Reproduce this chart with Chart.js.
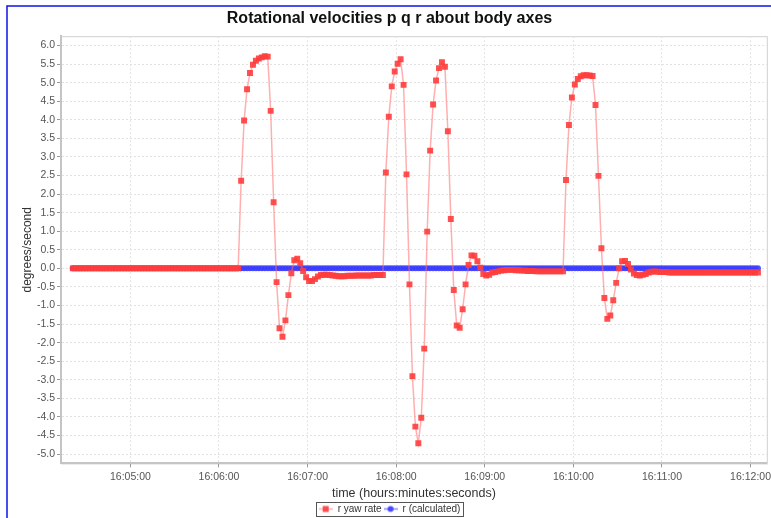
<!DOCTYPE html>
<html>
<head>
<meta charset="utf-8">
<script src="https://cdn.jsdelivr.net/npm/chart.js@4.4.1/dist/chart.umd.min.js"></script>
<style>
  html, body { margin: 0; padding: 0; background: #fff; }
  canvas { display: block; }
</style>
</head>
<body>
<canvas id="chart" width="771" height="518"></canvas>
<script>
// samples every 2 s, first one at 16:04:21 (seconds since midnight)
const sampleStart = 57861;
const sampleStep = 2;

const rYawRate = [
    0, 0, 0, 0, 0, 0, 0, 0, 0, 0, 0, 0, 0, 0, 0, 0, 0, 0, 0, 0,
    0, 0, 0, 0, 0, 0, 0, 0, 0, 0, 0, 0, 0, 0, 0, 0, 0, 0, 0, 0,
    0, 0, 0, 0, 0, 0, 0, 0, 0, 0, 0, 0, 0, 0, 0, 0, 0,
    2.36, 3.98, 4.82, 5.26, 5.48, 5.59, 5.65, 5.68, 5.71, 5.70, 4.24, 1.78, -0.37, -1.61,
    -1.84, -1.40, -0.72, -0.13, 0.22, 0.26, 0.14, -0.07, -0.24, -0.34, -0.34, -0.29, -0.22, -0.18,
    -0.17, -0.17, -0.18, -0.19, -0.20, -0.21, -0.21, -0.21, -0.20, -0.20, -0.20,
    -0.19, -0.19, -0.19, -0.19, -0.19, -0.19, -0.18, -0.18, -0.18, -0.18,
    2.58, 4.08, 4.90, 5.30, 5.51, 5.63, 4.94, 2.53, -0.43, -2.90, -4.26, -4.71, -4.02,
    -2.16, 0.99, 3.17, 4.41, 5.06, 5.39, 5.55, 5.43, 3.69, 1.33, -0.58, -1.54, -1.60,
    -1.10, -0.43, 0.09, 0.35, 0.34, 0.19, 0.02, -0.15, -0.19, -0.17, -0.11,
    -0.10, -0.08, -0.06, -0.05, -0.04, -0.04, -0.04, -0.05, -0.05, -0.06, -0.06, -0.07,
    -0.07, -0.07, -0.08, -0.08, -0.08, -0.08, -0.08, -0.08, -0.08, -0.08, -0.08, -0.08,
    2.38, 3.86, 4.60, 4.95, 5.10, 5.17, 5.20, 5.20, 5.19, 5.18, 4.40, 2.49, 0.54, -0.80, -1.36, -1.27,
    -0.86, -0.39, 0.00, 0.19, 0.20, 0.12, -0.03, -0.14, -0.18, -0.19, -0.17, -0.15, -0.11, -0.09, -0.08,
    -0.09, -0.10, -0.10, -0.10, -0.11, -0.11, -0.11, -0.11, -0.11, -0.11, -0.11, -0.11,
    -0.11, -0.11, -0.11, -0.11, -0.11, -0.11, -0.11, -0.11, -0.11, -0.11, -0.11, -0.11,
    -0.11, -0.11, -0.11, -0.11, -0.11, -0.11, -0.11, -0.11, -0.11, -0.11, -0.11
];

const rCalculated = [
    0, 0, 0, 0, 0, 0, 0, 0, 0, 0, 0, 0, 0, 0, 0, 0, 0, 0, 0, 0,
    0, 0, 0, 0, 0, 0, 0, 0, 0, 0, 0, 0, 0, 0, 0, 0, 0, 0, 0, 0,
    0, 0, 0, 0, 0, 0, 0, 0, 0, 0, 0, 0, 0, 0, 0, 0, 0, 0, 0, 0,
    0, 0, 0, 0, 0, 0, 0, 0, 0, 0, 0, 0, 0, 0, 0, 0, 0, 0, 0, 0,
    0, 0, 0, 0, 0, 0, 0, 0, 0, 0, 0, 0, 0, 0, 0, 0, 0, 0, 0, 0,
    0, 0, 0, 0, 0, 0, 0, 0, 0, 0, 0, 0, 0, 0, 0, 0, 0, 0, 0, 0,
    0, 0, 0, 0, 0, 0, 0, 0, 0, 0, 0, 0, 0, 0, 0, 0, 0, 0, 0, 0,
    0, 0, 0, 0, 0, 0, 0, 0, 0, 0, 0, 0, 0, 0, 0, 0, 0, 0, 0, 0,
    0, 0, 0, 0, 0, 0, 0, 0, 0, 0, 0, 0, 0, 0, 0, 0, 0, 0, 0, 0,
    0, 0, 0, 0, 0, 0, 0, 0, 0, 0, 0, 0, 0, 0, 0, 0, 0, 0, 0, 0,
    0, 0, 0, 0, 0, 0, 0, 0, 0, 0, 0, 0, 0, 0, 0, 0, 0, 0, 0, 0,
    0, 0, 0, 0, 0, 0, 0, 0, 0, 0, 0, 0, 0
];

const seriesNames = ['r yaw rate', 'r (calculated)'];
// x tick marks: 16:05:00 ... 16:12:00 in seconds since midnight
const xTicks = [57900, 57960, 58020, 58080, 58140, 58200, 58260, 58320];
const yTicks = [-5.0, -4.5, -4.0, -3.5, -3.0, -2.5, -2.0, -1.5, -1.0, -0.5, 0.0,
    0.5, 1.0, 1.5, 2.0, 2.5, 3.0, 3.5, 4.0, 4.5, 5.0, 5.5, 6.0];
const timeMin = 57853;
const timeMax = 58331;
const yMin = -5.25;
const yMax = 6.25;

const RED = 'rgba(255, 60, 60, 0.9)';
const RED_LINE = 'rgba(255, 110, 110, 0.55)';
const BLUE = 'rgba(60, 60, 255, 0.9)';
const BLUE_LINE = 'rgba(60, 60, 255, 0.6)';

function toPoints(values) {
    return values.map((v, i) => ({x: sampleStart + i * sampleStep, y: v}));
}

function hms(sec) {
    const h = Math.floor(sec / 3600);
    const m = Math.floor((sec % 3600) / 60);
    const s = Math.round(sec % 60);
    return [h, m, s].map(n => String(n).padStart(2, '0')).join(':');
}

function legendIcon(lineColor, markColor, shape) {
    const c = document.createElement('canvas');
    c.width = 14;
    c.height = 9;
    const g = c.getContext('2d');
    g.strokeStyle = lineColor;
    g.lineWidth = 1.5;
    g.beginPath();
    g.moveTo(0, 4.5);
    g.lineTo(14, 4.5);
    g.stroke();
    g.fillStyle = markColor;
    if (shape === 'rect') {
        g.fillRect(4, 1.5, 6, 6);
    } else {
        g.beginPath();
        g.arc(7, 4.5, 3, 0, Math.PI * 2);
        g.fill();
    }
    return c;
}

const icons = [legendIcon(RED_LINE, RED, 'rect'), legendIcon(BLUE_LINE, BLUE, 'circle')];

const framePlugin = {
    id: 'frame',
    beforeDraw(chart) {
        const ctx = chart.ctx;
        ctx.save();
        ctx.fillStyle = '#fff';
        ctx.fillRect(0, 0, chart.width, chart.height);
        ctx.strokeStyle = '#1010ee';
        ctx.lineWidth = 1.5;
        ctx.beginPath();
        ctx.moveTo(7, chart.height);
        ctx.lineTo(7, 6);
        ctx.lineTo(chart.width, 6);
        ctx.stroke();
        const a = chart.chartArea;
        ctx.strokeStyle = '#d0d0d0';
        ctx.lineWidth = 1;
        ctx.strokeRect(a.left + 0.5, a.top + 0.5, a.right - a.left, a.bottom - a.top);
        ctx.restore();
    },
    afterDraw(chart) {
        const boxes = chart.legend.legendHitBoxes;
        if (!boxes || !boxes.length) return;
        let l = Infinity, t = Infinity, r = -Infinity, b = -Infinity;
        boxes.forEach(h => {
            l = Math.min(l, h.left);
            t = Math.min(t, h.top);
            r = Math.max(r, h.left + h.width);
            b = Math.max(b, h.top + h.height);
        });
        const ctx = chart.ctx;
        ctx.save();
        ctx.strokeStyle = '#555';
        ctx.lineWidth = 1;
        ctx.strokeRect(Math.round(l - 3) + 0.5, Math.round(t - 2) + 0.5, Math.round(r - l + 5), Math.round(b - t + 4));
        ctx.restore();
    }
};

new Chart(document.getElementById('chart'), {
    type: 'line',
    data: {
        datasets: [
            {
                label: seriesNames[0],
                data: toPoints(rYawRate),
                borderColor: RED_LINE,
                borderWidth: 1.5,
                pointStyle: 'rect',
                pointRadius: 4.2,
                pointBackgroundColor: RED,
                pointBorderWidth: 0,
                tension: 0
            },
            {
                label: seriesNames[1],
                data: toPoints(rCalculated),
                borderColor: BLUE_LINE,
                borderWidth: 1.5,
                pointStyle: 'circle',
                pointRadius: 3,
                pointBackgroundColor: BLUE,
                pointBorderWidth: 0,
                tension: 0
            }
        ]
    },
    options: {
        responsive: false,
        animation: false,
        devicePixelRatio: 1,
        layout: {
            padding: {left: 8, right: 0, top: 8, bottom: -6}
        },
        scales: {
            x: {
                type: 'linear',
                min: timeMin,
                max: timeMax,
                grid: {color: '#e2e2e2', tickColor: '#999', tickLength: 4, tickBorderDash: []},
                border: {color: '#c4c4c4', width: 2, dash: [2, 2]},
                ticks: {
                    maxRotation: 0,
                    autoSkip: false,
                    color: '#555',
                    padding: 3,
                    font: {family: 'Liberation Sans', size: 10.5},
                    callback: v => hms(v)
                },
                afterBuildTicks(scale) {
                    scale.ticks = xTicks.map(v => ({value: v}));
                },
                title: {
                    display: true,
                    text: 'time (hours:minutes:seconds)',
                    color: '#333',
                    padding: {top: 0, bottom: 1},
                    font: {family: 'Liberation Sans', size: 12.5}
                },
                afterFit(scale) {
                    scale.paddingLeft = 0;
                    scale.paddingRight = 0;
                }
            },
            y: {
                min: yMin,
                max: yMax,
                grid: {color: '#e2e2e2', tickColor: '#999', tickLength: 4, tickBorderDash: []},
                border: {color: '#c4c4c4', width: 2, dash: [2, 2]},
                ticks: {
                    color: '#555',
                    padding: 2,
                    font: {family: 'Liberation Sans', size: 10.5},
                    callback: v => v.toFixed(1)
                },
                afterBuildTicks(scale) {
                    scale.ticks = yTicks.map(v => ({value: v}));
                },
                title: {
                    display: true,
                    text: 'degrees/second',
                    color: '#333',
                    padding: {top: 12, bottom: 0},
                    font: {family: 'Liberation Sans', size: 12}
                },
                afterFit(scale) {
                    scale.width = 53;
                }
            }
        },
        plugins: {
            title: {
                display: true,
                text: 'Rotational velocities p q r about body axes',
                color: '#111',
                padding: {top: 1, bottom: 8},
                font: {family: 'Liberation Sans', size: 16, weight: 'bold'}
            },
            legend: {
                position: 'bottom',
                labels: {
                    usePointStyle: true,
                    pointStyleWidth: 14,
                    boxHeight: 9,
                    padding: 2,
                    color: '#333',
                    font: {family: 'Liberation Sans', size: 10},
                    generateLabels: chart => chart.data.datasets.map((ds, i) => ({
                        text: ds.label,
                        pointStyle: icons[i],
                        fillStyle: ds.pointBackgroundColor,
                        strokeStyle: ds.borderColor,
                        lineWidth: 0,
                        fontColor: '#333',
                        hidden: false,
                        datasetIndex: i
                    }))
                }
            },
            tooltip: {enabled: false}
        }
    },
    plugins: [framePlugin]
});
</script>
</body>
</html>
